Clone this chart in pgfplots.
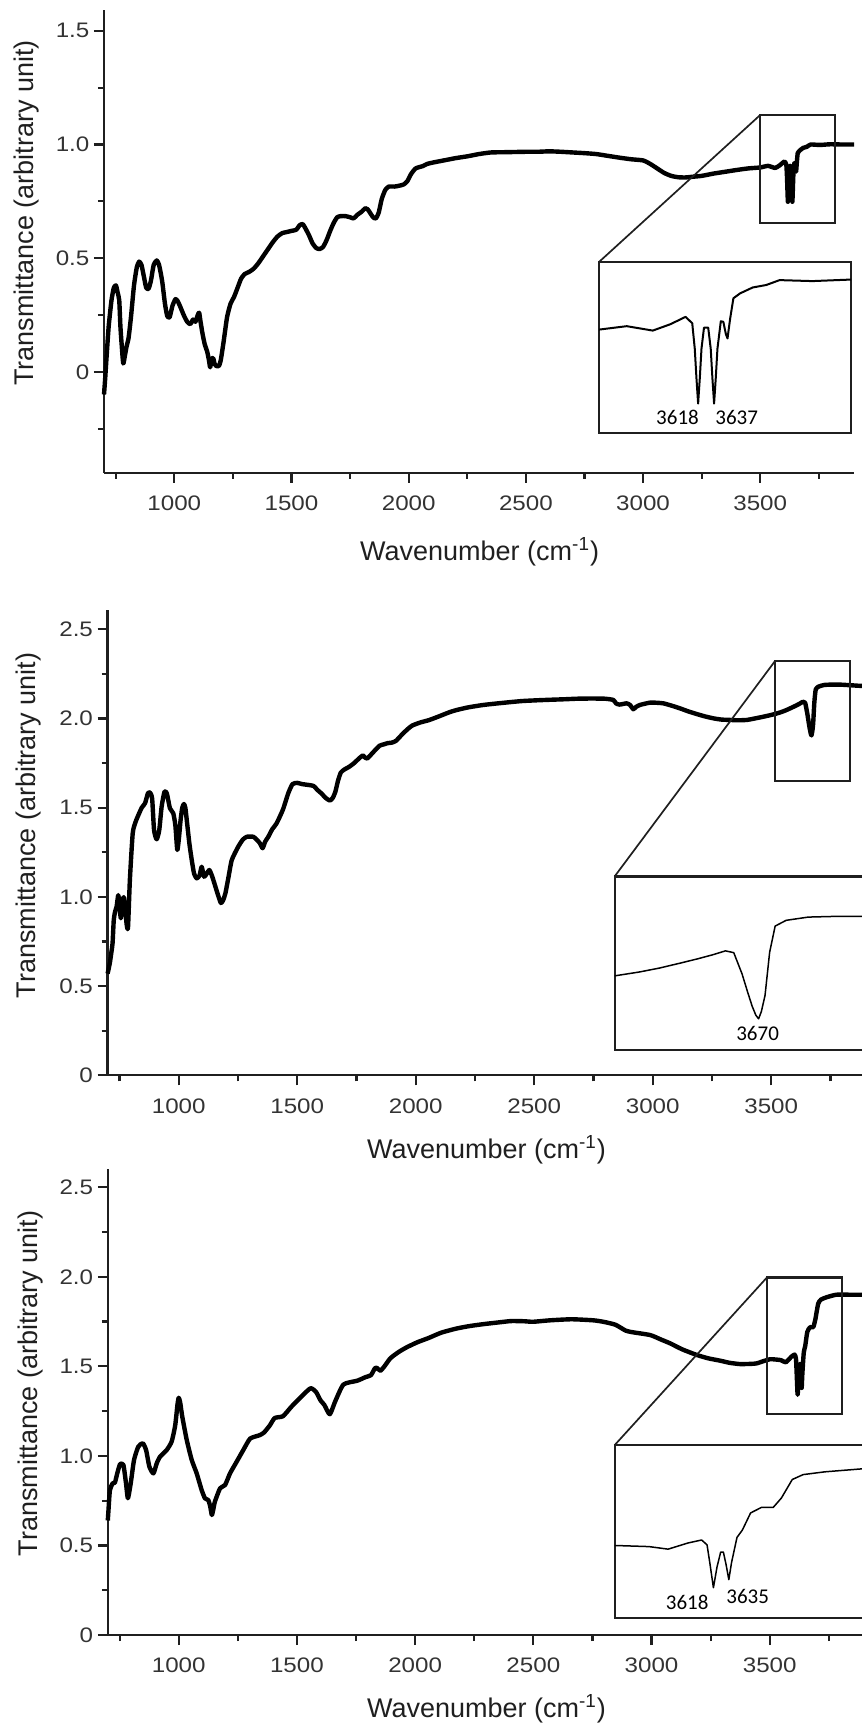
\documentclass[border=0pt]{standalone}
\usepackage{fontspec}
\setmainfont{Liberation Sans}
\newfontfamily\calibri{Carlito}
\usepackage{pgfplots}
\usepackage{pgfplotstable}
\pgfplotsset{compat=1.18}

% ---------- spectra (wavenumber, transmittance) ----------
\pgfplotstableread{
x y
700 -0.10
705 -0.03
711 0.066
720 0.20
732 0.315
742 0.37
751 0.38
758 0.35
765 0.315
770 0.20
775 0.125
782 0.037
789 0.07
796 0.11
805 0.15
815 0.24
828 0.38
840 0.46
850 0.485
860 0.47
870 0.42
880 0.37
890 0.365
900 0.40
912 0.47
925 0.49
935 0.47
948 0.40
960 0.30
970 0.245
980 0.24
992 0.29
1005 0.32
1015 0.31
1028 0.28
1040 0.25
1055 0.22
1068 0.21
1080 0.23
1090 0.22
1100 0.25
1106 0.26
1112 0.22
1120 0.17
1130 0.12
1140 0.09
1148 0.05
1153 0.02
1160 0.06
1166 0.06
1172 0.035
1180 0.025
1190 0.025
1198 0.05
1210 0.13
1225 0.24
1240 0.30
1255 0.33
1270 0.37
1285 0.41
1300 0.43
1320 0.44
1340 0.455
1360 0.48
1380 0.51
1400 0.54
1420 0.57
1440 0.595
1460 0.61
1480 0.615
1500 0.62
1520 0.625
1535 0.645
1548 0.65
1560 0.63
1575 0.60
1590 0.565
1605 0.545
1620 0.54
1635 0.55
1650 0.58
1665 0.62
1680 0.655
1695 0.68
1710 0.685
1730 0.685
1750 0.68
1765 0.675
1780 0.69
1800 0.705
1815 0.72
1825 0.715
1835 0.70
1848 0.68
1860 0.675
1872 0.70
1885 0.76
1900 0.80
1915 0.815
1940 0.815
1965 0.82
1980 0.825
1995 0.84
2010 0.87
2030 0.895
2060 0.905
2080 0.915
2110 0.922
2150 0.93
2200 0.94
2250 0.948
2300 0.958
2350 0.965
2400 0.966
2450 0.967
2500 0.968
2550 0.968
2600 0.97
2650 0.968
2700 0.965
2750 0.962
2800 0.958
2850 0.95
2900 0.942
2950 0.935
3000 0.93
3030 0.915
3060 0.895
3090 0.875
3120 0.862
3150 0.856
3180 0.855
3210 0.858
3250 0.862
3300 0.872
3350 0.88
3400 0.888
3450 0.895
3500 0.899
3533 0.906
3564 0.897
3585 0.91
3603 0.925
3611 0.912
3614 0.86
3616 0.80
3618 0.748
3620 0.80
3622 0.86
3625 0.903
3630 0.903
3633 0.86
3635 0.80
3637 0.748
3639 0.80
3641 0.86
3645 0.916
3648 0.915
3651 0.89
3653 0.881
3656 0.92
3660 0.963
3668 0.973
3683 0.985
3699 0.99
3715 1.0
3754 0.998
3798 1.001
3850 1.0
3900 1.0
}\spectrumA

\pgfplotstableread{
x y
700 0.57
705 0.60
710 0.634
716 0.69
721 0.741
726 0.87
732 0.92
738 0.945
745 1.01
750 0.95
756 0.88
762 0.96
768 0.999
775 0.93
780 0.85
786 0.827
794 1.095
806 1.357
818 1.42
830 1.459
844 1.50
858 1.525
870 1.58
879 1.585
888 1.55
896 1.375
907 1.323
918 1.375
928 1.506
940 1.59
950 1.58
963 1.497
977 1.469
986 1.40
994 1.263
1001 1.33
1008 1.431
1015 1.50
1022 1.521
1028 1.50
1034 1.431
1045 1.30
1055 1.207
1065 1.13
1076 1.104
1088 1.12
1097 1.169
1107 1.113
1118 1.13
1129 1.151
1140 1.12
1152 1.07
1166 1.01
1178 0.966
1187 0.98
1197 1.02
1210 1.11
1224 1.207
1251 1.281
1270 1.32
1287 1.337
1315 1.337
1330 1.32
1343 1.30
1354 1.273
1365 1.31
1378 1.337
1395 1.38
1413 1.412
1440 1.49
1462 1.58
1480 1.632
1500 1.639
1522 1.632
1545 1.628
1569 1.622
1585 1.60
1603 1.579
1620 1.555
1638 1.54
1650 1.555
1661 1.589
1672 1.65
1684 1.697
1700 1.715
1719 1.729
1740 1.75
1760 1.775
1777 1.793
1787 1.78
1796 1.776
1820 1.81
1847 1.847
1865 1.855
1882 1.862
1900 1.865
1917 1.875
1935 1.90
1951 1.922
1970 1.945
1986 1.961
2020 1.978
2056 1.991
2100 2.013
2140 2.034
2171 2.047
2220 2.062
2280 2.075
2333 2.083
2400 2.092
2450 2.098
2510 2.102
2566 2.105
2630 2.108
2682 2.111
2740 2.112
2798 2.111
2834 2.104
2845 2.085
2860 2.078
2890 2.085
2905 2.075
2918 2.052
2930 2.065
2946 2.076
2989 2.089
3020 2.088
3045 2.085
3080 2.072
3115 2.057
3150 2.04
3186 2.025
3220 2.012
3256 2.001
3290 1.994
3326 1.992
3360 1.99
3397 1.992
3430 2.0
3467 2.01
3500 2.02
3515 2.025
3540 2.035
3562 2.046
3585 2.06
3604 2.072
3620 2.083
3634 2.094
3643 2.089
3652 2.03
3658 1.98
3663 1.94
3667 1.915
3670 1.905
3673 1.925
3677 1.97
3682 2.09
3688 2.163
3700 2.179
3724 2.188
3754 2.19
3790 2.19
3840 2.186
3890 2.182
3950 2.18
}\spectrumB

\pgfplotstableread{
x y
700 0.64
703 0.70
709 0.81
721 0.848
730 0.851
740 0.903
752 0.955
766 0.95
777 0.848
785 0.764
797 0.848
811 0.978
829 1.052
848 1.071
862 1.033
876 0.94
893 0.903
907 0.959
921 0.996
949 1.033
970 1.08
985 1.17
995 1.29
1000 1.325
1006 1.30
1015 1.22
1034 1.089
1055 0.978
1076 0.903
1097 0.81
1111 0.764
1125 0.754
1133 0.72
1140 0.671
1146 0.70
1153 0.745
1175 0.82
1196 0.838
1217 0.903
1245 0.968
1273 1.033
1302 1.097
1340 1.115
1360 1.13
1385 1.17
1406 1.212
1441 1.222
1476 1.274
1523 1.337
1558 1.378
1581 1.357
1600 1.31
1616 1.285
1639 1.233
1662 1.305
1697 1.399
1755 1.42
1790 1.44
1813 1.451
1830 1.49
1837 1.493
1853 1.476
1870 1.50
1895 1.545
1930 1.58
1965 1.607
2010 1.635
2058 1.659
2110 1.688
2174 1.711
2230 1.725
2290 1.736
2350 1.745
2406 1.753
2460 1.752
2499 1.749
2569 1.757
2662 1.763
2755 1.757
2800 1.748
2848 1.732
2890 1.70
2918 1.691
2994 1.675
3040 1.65
3078 1.629
3130 1.595
3191 1.564
3240 1.545
3290 1.532
3330 1.52
3374 1.513
3420 1.514
3445 1.517
3475 1.53
3501 1.54
3511 1.54
3547 1.535
3568 1.523
3590 1.552
3605 1.566
3611 1.543
3614 1.46
3618 1.342
3622 1.44
3626 1.509
3629 1.509
3632 1.45
3635 1.38
3638 1.46
3644 1.578
3650 1.613
3659 1.693
3671 1.719
3684 1.719
3693 1.763
3705 1.85
3717 1.873
3741 1.886
3782 1.9
3840 1.9
3950 1.9
}\spectrumC

\definecolor{ink}{gray}{0.12}

\pgfplotsset{
  ftir/.style={
    scale only axis,
    axis x line*=bottom, axis y line*=left,
    axis line style={line width=1.1pt, -, ink},
    tick align=outside,
    major tick length=5pt, minor tick length=3pt,
    tick style={line width=1.1pt, ink},
    xmin=700, xmax=3900,
    xtick={1000,1500,2000,2500,3000,3500},
    xticklabels={1000,1500,2000,2500,3000,3500},
    minor xtick={750,1250,1750,2250,2750,3250,3750},
    scaled ticks=false,
    /pgf/number format/assume math mode=true,
    tick label style={font=\fontsize{10.5}{12}\selectfont, text=black!80, xscale=1.15},
    xticklabel style={yshift=-3pt},
    yticklabel style={xshift=1.5pt},
    clip=false,
  },
  spectrum/.style={line width=2.2pt, black, smooth, tension=0.35, line join=round},
  zoombox/.style={
    scale only axis,
    xtick=\empty, ytick=\empty,
    axis line style={line width=1.1pt, ink},
    axis background/.style={fill=white},
    restrict x to domain=3300:4000,
  },
}

\begin{document}
\begin{tikzpicture}
\useasboundingbox (0,0) rectangle (431pt,862.5pt);
\clip (0,0) rectangle (431pt,862.5pt);

% ===== top spectrum =====
\begin{axis}[ftir, at={(52pt,626pt)}, anchor=south west,
  width=375pt, height=231.3pt,
  ymin=-0.445, ymax=1.59,
  ytick={0,0.5,1,1.5}, yticklabels={0,0.5,1.0,1.5},
  minor ytick={-0.25,0.25,0.75,1.25}]
  \addplot[spectrum] table {\spectrumA};
  \draw[line width=1.1pt, ink] (axis cs:3499,1.129) rectangle (axis cs:3819,0.654);
  \coordinate (sA) at (axis cs:3499,1.129);
\end{axis}
\begin{axis}[zoombox, at={(299.5pt,646pt)}, anchor=south west,
  width=126pt, height=85.5pt,
  xmin=3500, xmax=3800, ymin=0.688, ymax=1.037]
  \addplot[line width=1pt, black, line join=round] table {\spectrumA};
  \coordinate (tA) at (rel axis cs:0,1);
\end{axis}
\draw[line width=0.85pt, ink] (sA) -- (tA);
\node[font=\calibri\fontsize{10.5}{12}\selectfont] at (338.75pt,653.75pt) {3618};
\node[font=\calibri\fontsize{10.5}{12}\selectfont] at (368.35pt,653.75pt) {3637};
\node[rotate=90, font=\fontsize{13.5}{16}\selectfont, text=ink] at (13.5pt,756pt) {Transmittance (arbitrary unit)};
\node[font=\fontsize{13.5}{16}\selectfont, text=ink] at (239.8pt,586.65pt) {Wavenumber (cm\textsuperscript{-1})};

% ===== middle spectrum =====
\begin{axis}[ftir, at={(53.8pt,324.85pt)}, anchor=south west,
  width=379.2pt, height=232.8pt,
  ymin=0, ymax=2.61,
  ytick={0,0.5,1,1.5,2,2.5}, yticklabels={0,0.5,1.0,1.5,2.0,2.5},
  minor ytick={0.25,0.75,1.25,1.75,2.25}]
  \addplot[spectrum] table {\spectrumB};
  \draw[line width=1.1pt, ink] (axis cs:3516,2.322) rectangle (axis cs:3832,1.65);
  \coordinate (sB) at (axis cs:3516,2.322);
\end{axis}
\begin{axis}[zoombox, at={(307.3pt,337.3pt)}, anchor=south west,
  width=126pt, height=86.95pt,
  xmin=3513.5, xmax=3787.4, ymin=1.817, ymax=2.301]
  \addplot[line width=0.75pt, black, line join=round] table {\spectrumB};
  \coordinate (tB) at (rel axis cs:0,1);
\end{axis}
\draw[line width=0.85pt, ink] (sB) -- (tB);
\node[font=\calibri\fontsize{10.5}{12}\selectfont] at (378.8pt,345.9pt) {3670};
\node[rotate=90, font=\fontsize{13.5}{16}\selectfont, text=ink] at (14.5pt,449.85pt) {Transmittance (arbitrary unit)};
\node[font=\fontsize{13.5}{16}\selectfont, text=ink] at (243.25pt,287.5pt) {Wavenumber (cm\textsuperscript{-1})};

% ===== bottom spectrum =====
\begin{axis}[ftir, at={(53.9pt,44.9pt)}, anchor=south west,
  width=378.25pt, height=232.96pt,
  ymin=0, ymax=2.6,
  ytick={0,0.5,1,1.5,2,2.5}, yticklabels={0,0.5,1.0,1.5,2.0,2.5},
  minor ytick={0.25,0.75,1.25,1.75,2.25}]
  \addplot[spectrum] table {\spectrumC};
  \draw[line width=1.1pt, ink] (axis cs:3488,1.996) rectangle (axis cs:3804,1.234);
  \coordinate (sC) at (axis cs:3488,1.996);
\end{axis}
\begin{axis}[zoombox, at={(307.3pt,53.3pt)}, anchor=south west,
  width=126pt, height=86.6pt,
  xmin=3509, xmax=3787, ymin=1.198, ymax=2.011]
  \addplot[line width=0.75pt, black, line join=round] table {\spectrumC};
  \coordinate (tC) at (rel axis cs:0,1);
\end{axis}
\draw[line width=0.85pt, ink] (sC) -- (tC);
\node[font=\calibri\fontsize{10.5}{12}\selectfont] at (343.6pt,61.5pt) {3618};
\node[font=\calibri\fontsize{10.5}{12}\selectfont] at (373.85pt,64.5pt) {3635};
\node[rotate=90, font=\fontsize{13.5}{16}\selectfont, text=ink] at (15.1pt,170.75pt) {Transmittance (arbitrary unit)};
\node[font=\fontsize{13.5}{16}\selectfont, text=ink] at (243.25pt,8pt) {Wavenumber (cm\textsuperscript{-1})};
\end{tikzpicture}
\end{document}
